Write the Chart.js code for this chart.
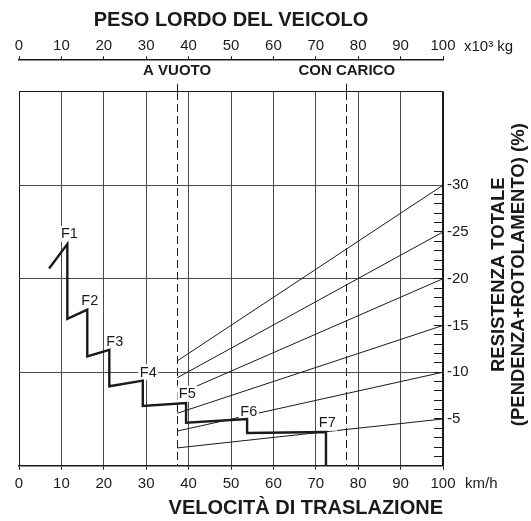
<!DOCTYPE html>
<html>
<head>
<meta charset="utf-8">
<script src="https://cdn.jsdelivr.net/npm/chart.js@4.4.1/dist/chart.umd.min.js"></script>
<style>
  html, body { margin: 0; padding: 0; background: #fff; }
  #wrap { width: 531px; height: 521px; }
</style>
</head>
<body>
<div id="wrap"><canvas id="c" width="531" height="521"></canvas></div>
<script>
// ---- data ----
const gearSpeed      = [7.1, 11.4, 11.4, 16.1, 16.1, 21.3, 21.3, 29.2, 29.2, 39.4, 39.4, 53.8, 53.8, 72.4, 72.4];
const gearResistance = [-21.1, -23.7, -15.7, -16.7, -11.7, -12.4, -8.5, -9.1, -6.4, -6.7, -4.6, -5.0, -3.5, -3.6, 0];

const gearLabels          = ['F1', 'F2', 'F3', 'F4', 'F5', 'F6', 'F7'];
const gearLabelSpeed      = [11.9, 16.7, 22.6, 30.5, 39.7, 54.2, 72.7];
const gearLabelResistance = [-24.8, -17.7, -13.3, -10.0, -7.7, -5.8, -4.6];

const loadWeights = [37.3, 77.3];
const loadLabels  = ['A VUOTO', 'CON CARICO'];

const gradeWeightEmpty = 37.3;
const gradeWeightFull  = 100;
const gradeAtEmpty = [-11.2, -9.4, -7.6, -5.6, -3.7, -1.9];
const gradeAtFull  = [-30, -25, -20, -15, -10, -5];

const resistanceTickLabels = [-30, -25, -20, -15, -10, -5];

const weightTitle = 'PESO LORDO DEL VEICOLO';
const weightUnit  = 'x10³ kg';
const speedTitle  = 'VELOCITÀ DI TRASLAZIONE';
const speedUnit   = 'km/h';
const resistanceTitle = ['RESISTENZA TOTALE', '(PENDENZA+ROTOLAMENTO) (%)'];

// ---- styling ----
const FONT = '"Liberation Sans", Arial, Helvetica, sans-serif';
const INK = '#1a1a1a';
const GRID = '#4a4a4a';
Chart.defaults.font.family = FONT;
Chart.defaults.color = INK;

const gearData = gearSpeed.map((x, i) => ({ x, y: gearResistance[i] }));
const gradeDatasets = gradeAtFull.map((r, i) => ({
  data: [{ x: gradeWeightEmpty, y: gradeAtEmpty[i] }, { x: gradeWeightFull, y: r }],
  borderColor: INK, borderWidth: 1, pointRadius: 0, fill: false, tension: 0
}));

const gearLabelPlugin = {
  id: 'gearLabels',
  afterDatasetDraw(chart, args) {
    if (args.index !== 1) return;
    const { ctx, scales } = chart;
    ctx.save();
    ctx.font = '14.5px ' + FONT;
    ctx.textAlign = 'center';
    ctx.textBaseline = 'middle';
    gearLabels.forEach((t, i) => {
      const px = scales.x.getPixelForValue(gearLabelSpeed[i]);
      const py = scales.y.getPixelForValue(gearLabelResistance[i]);
      const w = ctx.measureText(t).width;
      ctx.fillStyle = '#fff';
      ctx.fillRect(px - w / 2 - 1.5, py - 8, w + 3, 16);
      ctx.fillStyle = INK;
      ctx.fillText(t, px, py + 0.5);
    });
    ctx.restore();
  }
};

const extraTextPlugin = {
  id: 'extraText',
  afterDraw(chart) {
    const { ctx, scales, chartArea } = chart;
    ctx.save();
    ctx.fillStyle = INK;
    ctx.font = '15px ' + FONT;
    ctx.textAlign = 'left';
    ctx.textBaseline = 'middle';
    ctx.fillText(weightUnit, scales.xWeight.right + 21, scales.xWeight.bottom - 12);
    ctx.fillText(speedUnit, scales.x.right + 22, scales.x.top + 18);
    ctx.font = 'bold 18.5px ' + FONT;
    ctx.textAlign = 'center';
    ctx.translate(chartArea.right + 56, (chartArea.top + chartArea.bottom) / 2 - 4);
    ctx.rotate(-Math.PI / 2);
    ctx.fillText(resistanceTitle[0], 0, 0);
    ctx.fillText(resistanceTitle[1], 0, 20);
    ctx.restore();
  }
};

new Chart(document.getElementById('c'), {
  type: 'line',
  data: {
    datasets: [
      { data: gearData, borderColor: INK, borderWidth: 2.4, pointRadius: 0, fill: false, tension: 0 },
      ...gradeDatasets
    ]
  },
  plugins: [gearLabelPlugin, extraTextPlugin],
  options: {
    responsive: false,
    animation: false,
    devicePixelRatio: 1,
    layout: { padding: { left: 19, right: 0, top: 0, bottom: 0 } },
    plugins: { legend: { display: false }, tooltip: { enabled: false } },
    scales: {
      x: {
        type: 'linear', position: 'bottom', min: 0, max: 100,
        afterFit: s => { s.height = 55.3; },
        ticks: { stepSize: 10, padding: 5, maxRotation: 0, font: { size: 15 }, color: INK },
        grid: {
          color: c => (c.tick && (c.tick.value === 0 || c.tick.value === 100)) ? INK : GRID,
          lineWidth: 1, tickLength: 4, tickColor: INK
        },
        border: { color: INK, width: 1.5 },
        title: { display: true, text: speedTitle, align: 'end', font: { size: 20, weight: 'bold' }, color: INK, padding: { top: 0, bottom: 1 } }
      },
      xLoad: {
        type: 'linear', position: 'top', min: 0, max: 100, weight: 0,
        afterFit: s => { s.height = 32.4; },
        afterBuildTicks: s => { s.ticks = loadWeights.map(v => ({ value: v })); },
        ticks: { autoSkip: false, maxRotation: 0, padding: 4, font: { size: 15, weight: 'bold' }, color: INK,
                 callback: (v, i) => loadLabels[i] },
        grid: { color: INK, lineWidth: 1, tickBorderDash: [8, 4], tickLength: 8, tickColor: INK, drawOnChartArea: true },
        border: { display: false, dash: [8, 4] }
      },
      xWeight: {
        type: 'linear', position: 'top', min: 0, max: 100, weight: 1,
        afterFit: s => { s.height = 59.3; },
        ticks: { stepSize: 10, padding: 1, maxRotation: 0, font: { size: 15 }, color: INK },
        grid: { drawOnChartArea: false, tickLength: 3, tickColor: INK },
        border: { color: INK, width: 1.5 },
        title: { display: true, text: weightTitle, font: { size: 20, weight: 'bold' }, color: INK, padding: { top: 8, bottom: 0 } }
      },
      y: {
        type: 'linear', position: 'right', min: -40, max: 0, reverse: true,
        afterFit: s => { s.width = 88; },
        afterBuildTicks: s => {
          const t = [];
          for (let v = -40; v <= 0; v++) t.push({ value: v });
          s.ticks = t;
        },
        ticks: { autoSkip: false, padding: 13, font: { size: 15 }, color: INK,
                 callback: v => resistanceTickLabels.includes(v) ? String(v) : '' },
        grid: {
          color: c => {
            const v = c.tick ? c.tick.value : 1;
            if (v === -40) return INK;
            if (v % 10 === 0 && v !== 0) return GRID;
            return 'rgba(0,0,0,0)';
          },
          lineWidth: 1,
          tickLength: -9,
          tickColor: c => {
            const v = c.tick ? c.tick.value : 0;
            return (v <= -1 && v >= -29) ? INK : 'rgba(0,0,0,0)';
          }
        },
        border: { color: INK, width: 1.5 }
      }
    }
  }
});
</script>
</body>
</html>
